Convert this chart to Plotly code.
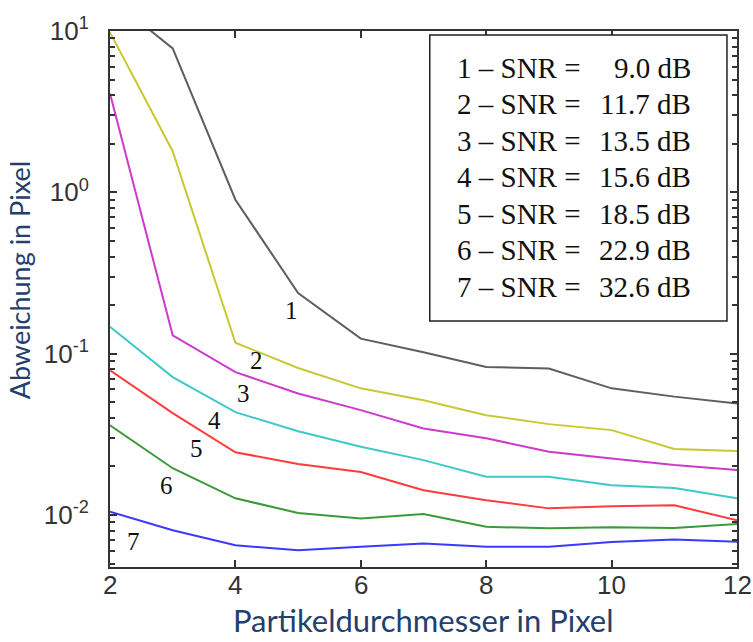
import math
import plotly.graph_objects as go

# ---- data ----
x_vals = [2, 3, 4, 5, 6, 7, 8, 9, 10, 11, 12]
curve_ids = ["1", "2", "3", "4", "5", "6", "7"]
snr_db = ["9.0", "11.7", "13.5", "15.6", "18.5", "22.9", "32.6"]
s1 = [16.0, 7.8, 0.90, 0.238, 0.124, 0.102, 0.0826, 0.081, 0.061, 0.0542, 0.0492]
s2 = [9.8, 1.8, 0.117, 0.0815, 0.061, 0.0515, 0.0416, 0.0366, 0.0336, 0.0257, 0.0249]
s3 = [4.1, 0.130, 0.0769, 0.0567, 0.0447, 0.0344, 0.0299, 0.0247, 0.0224, 0.0204, 0.0190]
s4 = [0.147, 0.0716, 0.0434, 0.0331, 0.0265, 0.0219, 0.0173, 0.0173, 0.0153, 0.0147, 0.0127]
s5 = [0.079, 0.0428, 0.0245, 0.0207, 0.0185, 0.01426, 0.01236, 0.0110, 0.01135, 0.0115, 0.00929]
s6 = [0.036, 0.0195, 0.0127, 0.0103, 0.00953, 0.01014, 0.00845, 0.00828, 0.0084, 0.0083, 0.0088]
s7 = [0.01047, 0.00805, 0.0065, 0.00605, 0.00635, 0.00667, 0.00635, 0.00635, 0.0068, 0.00706, 0.00683]
series = [s1, s2, s3, s4, s5, s6, s7]
x_ticks = [2, 4, 6, 8, 10, 12]
x_ticktext = ["2", "4", "6", "8", "10", "12"]
y_tickvals = [0.01, 0.1, 1, 10]
y_ticktext = ["10<sup>-2</sup>", "10<sup>-1</sup>", "10<sup>0</sup>", "10<sup>1</sup>"]
# label anchor positions for curve numbers (data coords)
label_x = [4.90, 4.34, 4.13, 3.67, 3.38, 2.90, 2.37]
label_y = [0.186, 0.0912, 0.0568, 0.0387, 0.0259, 0.0153, 0.00683]

colors = ["#5e5e5e", "#c8c832", "#cc3acc", "#3ec8c8", "#ff3c3c", "#3a9a3a", "#3a3aff"]

fig = go.Figure()
for sid, ys, c in zip(curve_ids, series, colors):
    fig.add_trace(go.Scatter(x=x_vals, y=ys, mode="lines", name=sid,
                             line=dict(color=c, width=2), showlegend=False))

serif = "Liberation Serif, Times New Roman, serif"
for sid, lx, ly in zip(curve_ids, label_x, label_y):
    fig.add_annotation(x=lx, y=math.log10(ly), xref="x", yref="y", yanchor="middle", xanchor="center",
                       text=sid, showarrow=False, font=dict(family=serif, size=25, color="#111"))

# legend-like box
fig.add_shape(type="rect", xref="paper", yref="paper", x0=0.510, x1=0.984, y0=0.459, y1=0.9925,
              line=dict(color="#222", width=1.5), fillcolor="white", layer="above")
for i, (sid, v) in enumerate(zip(curve_ids, snr_db)):
    yy = 0.931 - i * 0.0681
    fig.add_annotation(x=0.550, y=yy, xref="paper", yref="paper", xanchor="left", yanchor="middle",
                       text=f"{sid} \u2013 SNR =", showarrow=False,
                       font=dict(family=serif, size=29, color="#111"))
    fig.add_annotation(x=0.930, y=yy, xref="paper", yref="paper", xanchor="right", yanchor="middle",
                       text=f"{v} dB", showarrow=False,
                       font=dict(family=serif, size=29, color="#111"))

# x tick labels
tick_font = dict(family="Liberation Sans, Arial, sans-serif", size=26, color="#333")
for tv, tt in zip(x_ticks, x_ticktext):
    fig.add_annotation(x=tv, y=0, xref="x", yref="paper", xanchor="center", yanchor="top",
                       yshift=-1, text=tt, showarrow=False, font=tick_font)

title_color = "#243f6b"
fig.add_annotation(x=0.5, y=-0.098, xref="paper", yref="paper", xanchor="center", yanchor="middle",
                   text="Partikeldurchmesser in Pixel", showarrow=False,
                   font=dict(family="Lato, Open Sans, sans-serif", size=31, color=title_color))
fig.add_annotation(x=-0.145, y=0.535, xref="paper", yref="paper", xanchor="center", yanchor="middle",
                   text="Abweichung in Pixel", showarrow=False, textangle=-90,
                   font=dict(family="Lato, Open Sans, sans-serif", size=27, color=title_color))

minor_vals = [m * 10 ** e for e in (-3, -2, -1, 0) for m in range(2, 10)]

axis_line = "#333"
fig.update_xaxes(range=[2, 12], tickvals=x_ticks, ticks="inside", ticklen=7, tickwidth=1.5,
                 tickcolor=axis_line, showticklabels=False,
                 showline=True, linecolor=axis_line, linewidth=2, mirror="ticks",
                 showgrid=False, zeroline=False)
fig.update_yaxes(type="log", range=[-2.322, 1], tickvals=y_tickvals, ticktext=y_ticktext,
                 ticks="inside", ticklen=7, tickwidth=1.5, tickcolor=axis_line,
                 minor=dict(ticks="inside", ticklen=5, tickwidth=1.5, tickcolor=axis_line,
                            showgrid=False, tickvals=minor_vals),
                 showline=True, linecolor=axis_line, linewidth=2, mirror="ticks",
                 showgrid=False, zeroline=False, ticklabelstandoff=14,
                 tickfont=tick_font)

fig.update_layout(width=753, height=642, margin=dict(l=110, r=16, t=31, b=75),
                  paper_bgcolor="white", plot_bgcolor="white")

fig.write_html("out.html")
